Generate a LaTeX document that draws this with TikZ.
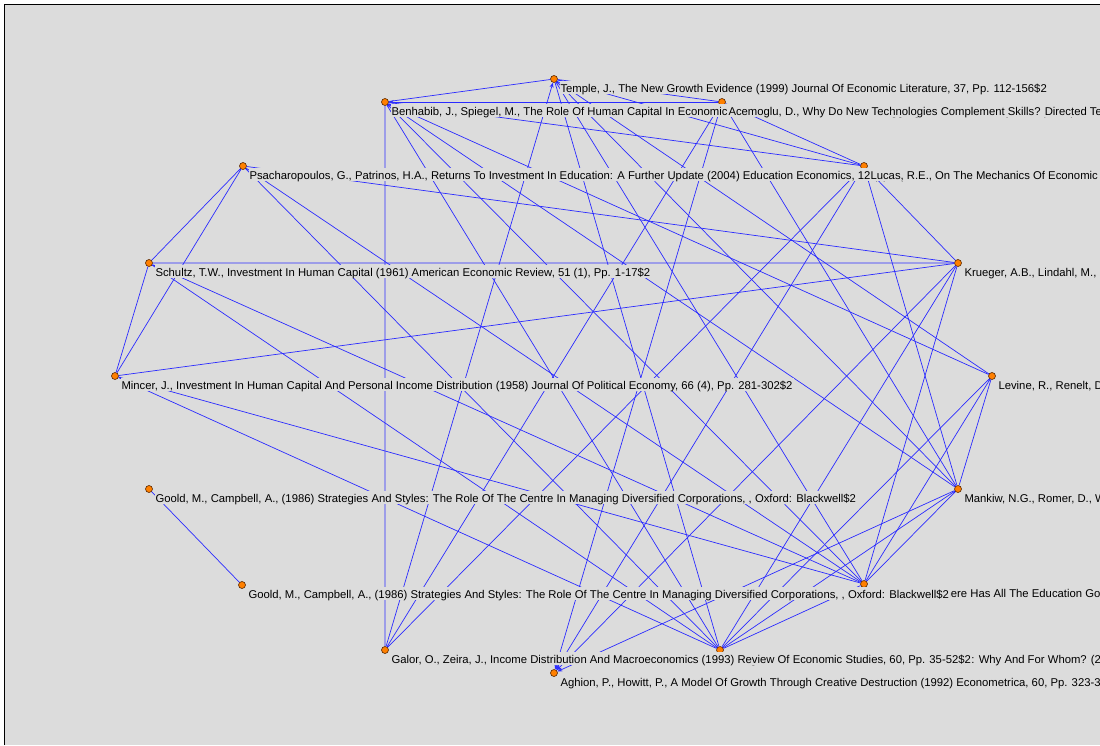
\documentclass[tikz,border=0pt]{standalone}
\usepackage{fontspec}
\setmainfont{Liberation Sans}
\usetikzlibrary{arrows.meta,positioning}
\definecolor{bg}{HTML}{DCDCDC}
\definecolor{linkblue}{HTML}{2B2BFF}
\definecolor{dotfill}{HTML}{FF8000}
\definecolor{dotline}{HTML}{5A2800}

\begin{document}
\begin{tikzpicture}[
        x=1pt, y=-1pt,
        paper/.style = {circle, fill=dotfill, draw=dotline, line width=0.6pt, minimum size=7pt, inner sep=0pt},
        link/.style = {linkblue, line width=0.7pt},
        cites/.style = {link, -{Stealth[length=5pt, width=4pt]}},
        lbl/.style = {fill=bg, inner xsep=1pt, inner ysep=1pt, text height=10pt, text depth=1pt,
                      yshift=-8.6pt, font=\fontsize{11.3}{12}\selectfont}
    ]
    \useasboundingbox (0,0) rectangle (1100,745);
    \clip (0,0) rectangle (1100,745);
    \fill[white] (0,0) rectangle (1100,745);
    \fill[bg] (5,5) rectangle (1100,745);
    \draw[black, line width=1pt] (4.5,745) -- (4.5,4.5) -- (1100,4.5);

    % papers on the ring
    \node[paper] (temple)    at (554,79)  {};
    \node[paper] (acemoglu)  at (722,102) {};
    \node[paper] (lucas)     at (864,166) {};
    \node[paper] (krueger)   at (958,263) {};
    \node[paper] (levine)    at (992,376) {};
    \node[paper] (mankiw)    at (958,489) {};
    \node[paper] (pritchett) at (864,584) {};
    \node[paper] (growth)    at (720,650) {};
    \node[paper] (aghion)    at (554,673) {};
    \node[paper] (galor)     at (385,650) {};
    \node[paper] (gooldb)    at (242,585) {};
    \node[paper] (goolda)    at (149,489) {};
    \node[paper] (mincer)    at (115,376) {};
    \node[paper] (schultz)   at (149,263) {};
    \node[paper] (psach)     at (243,166) {};
    \node[paper] (benhabib)  at (385,102) {};

    % citation links
    \draw[link] (goolda) -- (gooldb);
    \draw[link] (psach) -- (schultz) (psach) -- (mincer) (psach) -- (growth) (psach) -- (pritchett) (psach) -- (krueger);
    \draw[link] (schultz) -- (mincer) (schultz) -- (krueger) (schultz) -- (growth) (schultz) -- (pritchett);
    \draw[link] (mincer) -- (krueger) (mincer) -- (growth) (mincer) -- (pritchett);
    \draw[link] (benhabib) -- (temple) (benhabib) -- (galor) (benhabib) -- (lucas) (benhabib) -- (growth)
        (benhabib) -- (pritchett) (benhabib) -- (mankiw) (benhabib) -- (levine);
    \draw[cites] (acemoglu) -- (benhabib);
    \draw[link] (temple) -- (acemoglu) (temple) -- (growth) (temple) -- (pritchett) (temple) -- (mankiw)
        (temple) -- (levine) (temple) -- (lucas);
    \draw[cites] (galor) -- (temple);
    \draw[link] (galor) -- (acemoglu) (galor) -- (lucas);
    \draw[cites] (acemoglu) -- (aghion);
    \draw[cites] (lucas) -- (aghion);
    \draw[cites] (krueger) -- (aghion);
    \draw[cites] (mankiw) -- (aghion);
    \draw[link] (acemoglu) -- (lucas) (acemoglu) -- (mankiw);
    \draw[link] (lucas) -- (krueger) (lucas) -- (mankiw);
    \draw[link] (krueger) -- (pritchett) (krueger) -- (growth);
    \draw[link] (levine) -- (mankiw) (levine) -- (growth) (levine) -- (pritchett);
    \draw[link] (mankiw) -- (growth) (mankiw) -- (pritchett);
    \draw[link] (growth) -- (pritchett);

    % labels (later ones cover earlier ones)
    \node[lbl, right=1.5pt of benhabib] (benhabibl) {Benhabib, J., Spiegel, M., The Role Of Human Capital In Economic Development: Evidence From Aggregate Cross-Country Data (1994) Journal Of Monetary Economics, 34, Pp. 143-173\$2};
    \node[lbl, right=1.5pt of psach] (psachl) {Psacharopoulos, G., Patrinos, H.A., Returns To Investment In Education: A Further Update (2004) Education Economics, 12 (2), Pp. 111-134\$2};
    \node[lbl, right=1.5pt of pritchett] (pritchettl) {Pritchett, L., Where Has All The Education Gone? (2001) World Bank Economic Review, 15 (3), Pp. 367-391\$2};
    \node[lbl, right=1.5pt of growth] (growthl) {Krueger, A.B., Lindahl, M., Education For Growth: Why And For Whom? (2001) Journal Of Economic Literature, 39, Pp. 1101-1136\$2};
    \node[lbl, right=1.5pt of temple] (templel) {Temple, J., The New Growth Evidence (1999) Journal Of Economic Literature, 37, Pp. 112-156\$2};
    \node[lbl, right=1.5pt of acemoglu] (acemoglul) {Acemoglu, D., Why Do New Technologies Complement Skills? Directed Technical Change And Wage Inequality (1998) Quarterly Journal Of Economics, 113, Pp. 1055-1089\$2};
    \node[lbl, right=1.5pt of lucas] (lucasl) {Lucas, R.E., On The Mechanics Of Economic Development (1988) Journal Of Monetary Economics, 22, Pp. 3-42\$2};
    \node[lbl, right=1.5pt of krueger] (kruegerl) {Krueger, A.B., Lindahl, M., Education For Growth};
    \node[lbl, right=1.5pt of levine] (levinel) {Levine, R., Renelt, D., A Sensitivity Analysis};
    \node[lbl, right=1.5pt of mankiw] (mankiwl) {Mankiw, N.G., Romer, D., Weil, D.N.};
    \node[lbl, right=1.5pt of aghion] (aghionl) {Aghion, P., Howitt, P., A Model Of Growth Through Creative Destruction (1992) Econometrica, 60, Pp. 323-351\$2};
    \node[lbl, right=1.5pt of galor] (galorl) {Galor, O., Zeira, J., Income Distribution And Macroeconomics (1993) Review Of Economic Studies, 60, Pp. 35-52\$2};
    \node[lbl, right=1.5pt of gooldb] (gooldbl) {Goold, M., Campbell, A., (1986) Strategies And Styles: The Role Of The Centre In Managing Diversified Corporations, , Oxford: Blackwell\$2};
    \node[lbl, right=1.5pt of goolda] (gooldal) {Goold, M., Campbell, A., (1986) Strategies And Styles: The Role Of The Centre In Managing Diversified Corporations, , Oxford: Blackwell\$2};
    \node[lbl, right=1.5pt of mincer] (mincerl) {Mincer, J., Investment In Human Capital And Personal Income Distribution (1958) Journal Of Political Economy, 66 (4), Pp. 281-302\$2};
    \node[lbl, right=1.5pt of schultz] (schultzl) {Schultz, T.W., Investment In Human Capital (1961) American Economic Review, 51 (1), Pp. 1-17\$2};
\end{tikzpicture}
\end{document}
